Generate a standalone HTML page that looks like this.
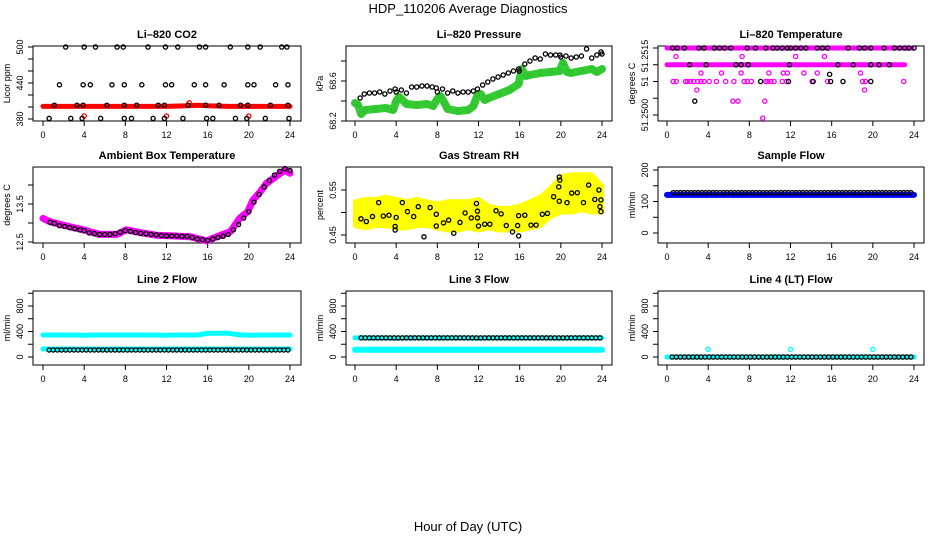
<!DOCTYPE html>
<html><head><meta charset="utf-8">
<style>
html,body{margin:0;padding:0;background:#fff;}
svg{display:block;font-family:"Liberation Sans",sans-serif;}
</style></head>
<body>
<svg id="chart" width="936" height="540" viewBox="0 0 936 540" xmlns="http://www.w3.org/2000/svg">
<rect width="936" height="540" fill="#fff"/>
<text x="468" y="13" text-anchor="middle" font-size="13">HDP_110206  Average Diagnostics</text>
<text x="468" y="531" text-anchor="middle" font-size="13">Hour of Day (UTC)</text>
</svg>
<script>
// ---------- data ----------
const xTicks=[0,4,8,12,16,20,24];
// CO2
const co2BlackGroupVals=[500,437,403,381];
const co2Black500H=[2.2,4.0,5.1,7.2,7.8,10.2,11.9,13.1,15.2,15.8,18.2,19.9,21.1,23.2,23.7];
const co2Black440H=[1.6,3.9,4.6,6.7,7.9,9.6,11.9,12.5,14.7,15.8,17.6,19.9,20.5,22.6,23.8];
const co2Black400H=[1.1,3.3,3.9,6.2,7.9,9.1,11.2,11.8,14.1,15.8,17.1,19.2,19.9,22.1,23.8];
const co2Black380H=[0.6,2.7,3.8,5.6,7.9,8.6,10.7,11.8,13.6,15.9,16.5,18.7,19.8,21.6,23.9];
const co2RedH=[0,2,4,6,8,10,12,14,15,16,18,20,22,24];
const co2RedV=[401,401,401,401,401,401,401,402,403,402,401,401,401,401];
const co2RedPtsH=[4,12,14.2,20];
const co2RedPtsV=[385,385,407,385];
// Pressure
const presGreenH=[0,0.3,0.6,1,2,3,3.7,4,4.3,5,6,7,7.6,8,8.3,8.7,9,10,11,11.5,11.9,12.2,12.6,13,14,15,15.9,16.2,16.6,17,18,19,19.9,20.2,20.6,21,22,23,23.5,24];
const presGreenV=[68.38,68.36,68.27,68.31,68.32,68.33,68.31,68.40,68.44,68.37,68.36,68.37,68.35,68.42,68.45,68.38,68.32,68.30,68.31,68.35,68.46,68.47,68.41,68.43,68.47,68.51,68.57,68.72,68.65,68.66,68.68,68.69,68.70,68.78,68.69,68.68,68.70,68.72,68.69,68.72];
const presBlackH=[0.5,0.9,1.4,1.9,2.4,2.9,3.4,3.9,4.0,4.5,5.0,5.5,6.0,6.5,7.0,7.5,7.9,8.0,8.5,9.0,9.5,10.0,10.5,11.0,11.5,11.9,12.4,12.9,13.4,13.9,14.4,14.9,15.4,15.9,15.95,16.5,17.0,17.5,18.0,18.5,19.0,19.5,19.9,20.0,20.5,21.0,21.5,22.0,22.5,23.0,23.5,23.9,24.0];
const presBlackV=[68.43,68.47,68.48,68.48,68.49,68.47,68.50,68.52,68.49,68.51,68.48,68.54,68.54,68.55,68.55,68.54,68.53,68.49,68.52,68.48,68.50,68.48,68.49,68.49,68.50,68.52,68.56,68.59,68.62,68.64,68.66,68.68,68.70,68.72,68.70,68.77,68.80,68.83,68.82,68.87,68.86,68.86,68.86,68.84,68.85,68.83,68.84,68.85,68.92,68.83,68.86,68.89,68.87];
// Li-820 temperature
const tempTicks=[51.25,51.250375,51.25075,51.251125,51.2515];
const tempPinkBandLevels=[51.2515,51.251125];
const tempPinkBandEnds=[23.8,23.1];
const tempPinkH=[0.87,7.3,12.5,15.3, 3.3,5.3,7.2,9.9,11.3,11.7,13.3,14.6,18.8, 0.6,0.9,1.8,2.0,2.3,2.6,3.0,3.3,3.6,4.1,4.8,5.7,6.5,7.5,7.8,8.2,9.6,9.8,10.1,10.4,11.2,11.6,14.1,15.6,19.0,19.3,23.0, 2.9,19.2, 6.4,6.9,9.5, 9.3];
const tempPinkV=[51.25131,51.25131,51.25131,51.25131, 51.25094,51.25094,51.25094,51.25094,51.25094,51.25094,51.25094,51.25094,51.25094, 51.25075,51.25075,51.25075,51.25075,51.25075,51.25075,51.25075,51.25075,51.25075,51.25075,51.25075,51.25075,51.25075,51.25075,51.25075,51.25075,51.25075,51.25075,51.25075,51.25075,51.25075,51.25075,51.25075,51.25075,51.25075,51.25075,51.25075, 51.25056,51.25056, 51.25031,51.25031,51.25031, 51.24993];
const tempBlackH=[0.55,1.0,1.7,3.1,3.6,4.6,5.1,5.6,6.2,7.8,8.6,9.6,10.3,10.7,11.2,11.7,12.0,12.5,13.0,13.5,14.6,15.1,15.6,17.6,18.7,19.2,19.8,21.1,22.1,22.6,23.1,23.5,24.0, 2.2,3.8,6.7,7.2,7.9,11.9,16.6,18.1,19.8,20.6,21.6, 9.1,11.8,14.2,15.9,17.1,19.8, 15.8, 2.7];
const tempBlackV=[51.2515,51.2515,51.2515,51.2515,51.2515,51.2515,51.2515,51.2515,51.2515,51.2515,51.2515,51.2515,51.2515,51.2515,51.2515,51.2515,51.2515,51.2515,51.2515,51.2515,51.2515,51.2515,51.2515,51.2515,51.2515,51.2515,51.2515,51.2515,51.2515,51.2515,51.2515,51.2515,51.2515, 51.251125,51.251125,51.251125,51.251125,51.251125,51.251125,51.251125,51.251125,51.251125,51.251125,51.251125, 51.25075,51.25075,51.25075,51.25075,51.25075,51.25075, 51.25091, 51.25031];
// Ambient box temperature
const ambPinkH=[0,0.7,2.3,3.9,5.5,7.2,8.1,9.4,11,12.6,14.3,15.9,16.9,18.2,19.1,19.9,20.4,21.1,21.7,22.7,23.5,24];
const ambPinkV=[13.12,13.03,12.92,12.82,12.70,12.70,12.82,12.75,12.68,12.66,12.64,12.53,12.64,12.77,13.12,13.30,13.6,13.82,14.04,14.24,14.39,14.31];
const ambBlackH=[0.7,1.1,1.6,2.1,2.6,3.1,3.6,4.0,4.5,5.0,5.5,6.0,6.5,7.0,7.5,8.0,8.5,9.0,9.5,10.0,10.5,11.0,11.5,12.0,12.5,13.0,13.5,14.0,14.5,15.0,15.5,16.0,16.5,17.0,17.5,18.0,18.5,19.0,19.5,20.0,20.5,21.0,21.5,22.0,22.5,23.0,23.5,24.0];
const ambBlackV=[13.02,12.99,12.93,12.91,12.88,12.85,12.82,12.80,12.74,12.72,12.70,12.70,12.70,12.72,12.76,12.80,12.78,12.75,12.73,12.72,12.70,12.69,12.67,12.66,12.66,12.66,12.65,12.65,12.62,12.58,12.56,12.54,12.58,12.62,12.65,12.70,12.82,12.96,13.13,13.30,13.55,13.75,13.95,14.12,14.26,14.36,14.43,14.38];
// Gas stream RH
const rhHours=[0,1,2,3,4,5,6,7,8,9,10,11,12,13,14,15,16,17,18,19,20,21,22,23,24];
const rhYellowLo=[0.47,0.465,0.47,0.47,0.465,0.465,0.47,0.47,0.465,0.46,0.46,0.465,0.46,0.465,0.46,0.46,0.46,0.465,0.47,0.49,0.50,0.50,0.505,0.50,0.50];
const rhYellowHi=[0.525,0.53,0.53,0.535,0.53,0.525,0.53,0.525,0.52,0.525,0.525,0.525,0.53,0.515,0.51,0.51,0.515,0.525,0.535,0.555,0.58,0.585,0.585,0.585,0.56];
const rhBlackH=[0.58,1.1,1.7,2.3,2.75,3.3,3.9,3.9,4.0,4.6,5.1,5.7,6.15,6.7,7.3,7.9,7.9,8.6,9.1,9.6,10.2,10.7,11.3,11.8,11.9,11.9,12.0,12.6,13.1,13.7,14.2,14.7,15.3,15.8,15.9,15.9,16.5,17.1,17.6,18.2,18.7,19.3,19.8,19.85,19.9,19.85,20.6,21.05,21.6,22.2,22.7,23.3,23.7,23.9,23.8,23.9];
const rhBlackV=[0.486,0.48,0.491,0.522,0.492,0.494,0.469,0.461,0.489,0.522,0.502,0.491,0.513,0.446,0.511,0.496,0.47,0.477,0.483,0.454,0.478,0.499,0.488,0.52,0.503,0.488,0.47,0.474,0.474,0.504,0.497,0.471,0.457,0.471,0.448,0.493,0.494,0.472,0.472,0.496,0.498,0.535,0.557,0.579,0.572,0.525,0.522,0.543,0.544,0.522,0.561,0.529,0.55,0.528,0.513,0.502];
// Flows (hourly values)
const flowHours=[0,1,2,3,4,5,6,7,8,9,10,11,12,13,14,15,16,17,18,19,20,21,22,23,24];
const sampleBlue=[121,121,121,121,121,121,121,121,121,121,121,121,121,121,121,121,121,121,121,121,121,121,121,121,121];
const sampleBlack=[128,128,128,128,128,128,128,128,128,128,128,128,128,128,128,128,128,128,128,128,128,128,128,128,128];
const line2CyanHi=[345,345,345,345,340,345,345,345,345,345,345,345,340,345,345,345,370,372,372,350,340,345,345,345,345];
const line2CyanLo=[125,125,125,125,125,125,125,125,125,125,125,125,125,125,125,125,125,125,125,125,125,125,125,125,125];
const line2Black=[110,110,110,110,110,110,110,110,110,110,110,110,110,110,110,110,110,110,110,110,110,110,110,110,110];
const line3CyanHi=[300,300,300,300,295,300,300,300,300,300,300,300,295,300,300,300,300,300,300,300,295,300,300,300,300];
const line3CyanLo=[115,115,115,115,115,115,115,115,115,115,115,115,115,115,115,115,115,115,115,115,115,115,115,115,115];
const line3Black=[300,300,300,300,300,300,300,300,300,300,300,300,300,300,300,300,300,300,300,300,300,300,300,300,300];
const line4Cyan=[0,0,0,0,0,0,0,0,0,0,0,0,0,0,0,0,0,0,0,0,0,0,0,0,0];
const line4Black=[0,0,0,0,0,0,0,0,0,0,0,0,0,0,0,0,0,0,0,0,0,0,0,0,0];
const line4OutH=[4,12,20];
const line4OutV=[120,120,120];

// ---------- drawing ----------
const NS='http://www.w3.org/2000/svg';
const svg=document.getElementById('chart');
const COLS=[{b0:33,b1:301,h0:43,h24:290},{b0:346,b1:612,h0:355,h24:602},{b0:658,b1:924,h0:667,h24:914}];
const ROWS=[{t:46,b:121},{t:167,b:243},{t:291,b:365}];
function el(tag,attrs,parent){const e=document.createElementNS(NS,tag);for(const k in attrs)e.setAttribute(k,attrs[k]);(parent||svg).appendChild(e);return e;}

function panel(name,col,row,title,ylab,v0,p0,v1,p1,ticks,labels){
  const C=COLS[col],R=ROWS[row];
  const g=el('g',{});
  
  
  const x=h=>C.h0+(C.h24-C.h0)*h/24;
  const y=v=>p0+(p1-p0)*(v-v0)/(v1-v0);
  const t=el('text',{x:(C.b0+C.b1)/2,y:R.t-8,'text-anchor':'middle','font-size':11,'font-weight':'bold'},g);
  t.textContent=title;
  
  
  const box=el('rect',{x:C.b0,y:R.t,width:C.b1-C.b0,height:R.b-R.t,fill:'none',stroke:'#000','stroke-width':1},g);
  
  
  const xa=el('g',{},g);
  
  
  el('line',{x1:x(xTicks[0]),x2:x(xTicks[xTicks.length-1]),y1:R.b,y2:R.b,stroke:'#000'},xa);
  xTicks.forEach(h=>{
    el('line',{x1:x(h),x2:x(h),y1:R.b,y2:R.b+5,stroke:'#000'},xa);
    const l=el('text',{x:x(h),y:R.b+17,'text-anchor':'middle','font-size':9},xa);l.textContent=h;
  });
  const ya=el('g',{},g);
  
  
  el('line',{x1:C.b0,x2:C.b0,y1:y(ticks[0]),y2:y(ticks[ticks.length-1]),stroke:'#000'},ya);
  ticks.forEach(v=>el('line',{x1:C.b0-5,x2:C.b0,y1:y(v),y2:y(v),stroke:'#000'},ya));
  labels.forEach(L=>{
    const yy=L.py!==undefined?L.py:y(L.v);
    const tx=el('text',{x:C.b0-10,y:yy,'text-anchor':'middle','font-size':9,transform:`rotate(-90 ${C.b0-10} ${yy})`},ya);
    tx.textContent=L.t;
  });
  const yl=el('text',{x:C.b0-23,y:(R.t+R.b)/2,'text-anchor':'middle','font-size':9,transform:`rotate(-90 ${C.b0-23} ${(R.t+R.b)/2})`},g);
  yl.textContent=ylab;
  
  
  const clip='clip-'+name;
  const cp=el('clipPath',{id:clip},g);
  el('rect',{x:C.b0,y:R.t-3,width:C.b1-C.b0+3,height:R.b-R.t+6},cp);
  const plot=el('g',{'clip-path':`url(#${clip})`},g);
  return {x,y,g:plot,name};
}
function points(P,H,V,color,series,r,sw){
  const s=el('g',{},P.g);
  
  
  H.forEach((h,i)=>el('circle',{cx:P.x(h),cy:P.y(V[i]),r:r||2.1,fill:'none',stroke:color,'stroke-width':sw||1.3},s));
}
function band(P,H,V,color,series,w){
  const d=H.map((h,i)=>(i?'L':'M')+P.x(h).toFixed(1)+' '+P.y(V[i]).toFixed(1)).join(' ');
  const p=el('path',{d,fill:'none',stroke:color,'stroke-width':w,'stroke-linecap':'round','stroke-linejoin':'round'},P.g);
  
  
}
function gridPoints(P,H,V,start,step,color,series){
  const hh=[],vv=[];
  for(let h=start;h<=24.001;h+=step){hh.push(h);vv.push(V[Math.min(24,Math.round(h))]);}
  points(P,hh,vv,color,series);
}

let P=panel('co2',0,0,'Li\u2013820 CO2','Licor ppm',380,119,500,47,[380,400,420,440,460,480,500],[{v:380,t:'380'},{v:440,t:'440'},{v:500,t:'500'}]);
band(P,co2RedH,co2RedV,'#ff0000','red-band',5);
points(P,co2RedPtsH,co2RedPtsV,'#ff0000','red-points');
[co2Black500H,co2Black440H,co2Black400H,co2Black380H].forEach((H,i)=>points(P,H,H.map(()=>co2BlackGroupVals[i]),'#000','black-points-'+i));

P=panel('pressure',1,0,'Li\u2013820 Pressure','kPa',68.2,121,68.6,81,[68.2,68.4,68.6,68.8],[{v:68.2,t:'68.2'},{v:68.6,t:'68.6'}]);
band(P,presGreenH,presGreenV,'#33cc33','green-band',8);
points(P,presGreenH,presGreenV,'#33bb33','green-points',2.1,1);
points(P,presBlackH,presBlackV,'#000','black-points');

P=panel('li820-temp',2,0,'Li\u2013820 Temperature','degrees C',51.25,115,51.2515,48,tempTicks,[{py:56,t:'51.2515'},{v:51.25075,t:'51'},{v:51.25,t:'51.2500'}]);
tempPinkBandLevels.forEach((lv,i)=>band(P,[0,tempPinkBandEnds[i]],[lv,lv],'#ff00ff','pink-band-'+i,5));
points(P,tempPinkH,tempPinkV,'#ff00ff','pink-points');
points(P,tempBlackH,tempBlackV,'#000','black-points');

P=panel('ambient-temp',0,1,'Ambient Box Temperature','degrees C',12.5,242,13.5,204,[12.5,13.0,13.5,14.0],[{v:12.5,t:'12.5'},{v:13.5,t:'13.5'}]);
band(P,ambPinkH,ambPinkV,'#ff00ff','pink-band',7);
points(P,ambBlackH,ambBlackV,'#000','black-points');

P=panel('gas-rh',1,1,'Gas Stream RH','percent',0.45,235,0.55,190,[0.45,0.50,0.55],[{v:0.45,t:'0.45'},{v:0.55,t:'0.55'}]);
{
  const d='M'+rhHours.map((h,i)=>P.x(h).toFixed(1)+' '+P.y(rhYellowHi[i]).toFixed(1)).join(' L')+' L'+rhHours.slice().reverse().map((h,j)=>P.x(h).toFixed(1)+' '+P.y(rhYellowLo[rhHours.length-1-j]).toFixed(1)).join(' L')+'Z';
  const p=el('path',{d,fill:'#ffff00',stroke:'#ffff00','stroke-width':4,'stroke-linejoin':'round'},P.g);
  
  
}
points(P,rhBlackH,rhBlackV,'#000','black-points');

P=panel('sample-flow',2,1,'Sample Flow','ml/min',0,233,200,170,[0,50,100,150,200],[{v:0,t:'0'},{v:100,t:'100'},{v:200,t:'200'}]);
band(P,flowHours,sampleBlue,'#0000ff','blue-band',6);
gridPoints(P,flowHours,sampleBlack,0.6,0.35,'#000','black-points');

const flowTicks=[0,200,400,600,800,1000],flowLabels=[{v:0,t:'0'},{v:400,t:'400'},{v:800,t:'800'}];
P=panel('line2-flow',0,2,'Line 2 Flow','ml/min',0,357,800,306,flowTicks,flowLabels);
band(P,flowHours,line2CyanHi,'#00ffff','cyan-band-high',5);
band(P,flowHours,line2CyanLo,'#00ffff','cyan-band-low',5);
gridPoints(P,flowHours,line2Black,0.6,0.4,'#000','black-points');
P=panel('line3-flow',1,2,'Line 3 Flow','ml/min',0,357,800,306,flowTicks,flowLabels);
band(P,flowHours,line3CyanLo,'#00ffff','cyan-band-low',6);
band(P,flowHours,line3CyanHi,'#00ffff','cyan-band-high',5);
gridPoints(P,flowHours,line3Black,0.6,0.4,'#000','black-points');
P=panel('line4-flow',2,2,'Line 4 (LT) Flow','ml/min',0,357,800,306,flowTicks,flowLabels);
band(P,flowHours,line4Cyan,'#00ffff','cyan-band',5);
gridPoints(P,flowHours,line4Black,0.5,0.4,'#000','black-points');
points(P,line4OutH,line4OutV,'#00ffff','cyan-outliers');
</script>
</body></html>
